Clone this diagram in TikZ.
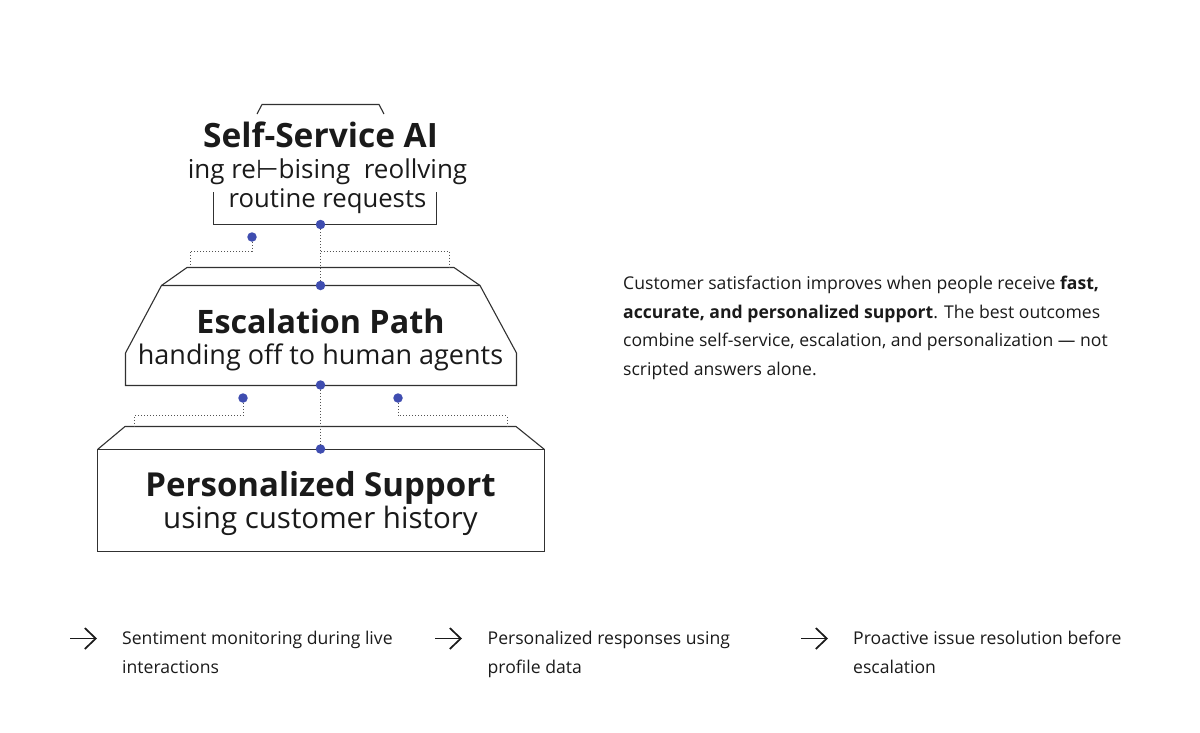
\documentclass[tikz,border=0pt]{standalone}
\usepackage{fontspec}
\setmainfont{Open Sans}
\newfontfamily\symfont{DejaVu Sans}
\usetikzlibrary{arrows.meta}
\definecolor{inkc}{HTML}{1A1A1A}
\definecolor{bluec}{HTML}{3F4DB0}
\tikzset{
  outline/.style={draw=inkc!90,line width=1.1pt,line join=miter},
  dots/.style={draw=inkc!75,line width=1pt,dotted},
  pin/.style={circle,fill=bluec,inner sep=0pt,minimum size=9.5pt},
  head/.style={font=\bfseries\fontsize{#1}{36}\selectfont,text=inkc,inner sep=0pt,anchor=base},
  head/.default=33,
  sub/.style={font=\fontsize{#1}{30}\selectfont,text=inkc,inner sep=0pt,anchor=base},
  sub/.default=27,
  body/.style={font=\fontsize{17.6}{28.6}\selectfont,text=inkc,inner sep=0pt,anchor=north west,align=left},
  go/.style={draw=inkc,line width=1.7pt,-{Straight Barb[length=11pt,width=21pt,line width=1.7pt]}}
}
\begin{document}
\begin{tikzpicture}[x=1pt,y=-1pt]
\useasboundingbox (0,0) rectangle (1200,732);

\coordinate (t1) at (257,114);
\coordinate (t2) at (262,104.5);
\coordinate (t3) at (379,104.5);
\coordinate (t4) at (384,114);
\coordinate (b1) at (213.5,192);
\coordinate (b2) at (213.5,224.5);
\coordinate (b3) at (436.5,224.5);
\coordinate (b4) at (436.5,192);

\coordinate (m1) at (161.5,285.5);
\coordinate (m2) at (187,267.5);
\coordinate (m3) at (454,267.5);
\coordinate (m4) at (480,285.5);
\coordinate (m5) at (516.5,353);
\coordinate (m6) at (516.5,385.5);
\coordinate (m7) at (125.5,385.5);
\coordinate (m8) at (125.5,353);

\coordinate (l1) at (97.5,449.5);
\coordinate (l2) at (125,426.5);
\coordinate (l3) at (516,426.5);
\coordinate (l4) at (544.5,449.5);
\coordinate (l5) at (544.5,551.5);
\coordinate (l6) at (97.5,551.5);

\path[outline] (t1) -- (t2) -- (t3) -- (t4);
\path[outline] (b1) -- (b2) -- (b3) -- (b4);
\path[outline] (m1) -- (m2) -- (m3) -- (m4);
\path[outline] (m1) -- (m4) -- (m5) -- (m6) -- (m7) -- (m8) -- cycle;
\path[outline] (l1) -- (l2) -- (l3) -- (l4);
\path[outline] (l1) -- (l4) -- (l5) -- (l6) -- cycle;

\node[pin] (p1) at (320.5,224.5) {};
\node[pin] (p2) at (320.5,285.5) {};
\node[pin] (p3) at (320.5,385) {};
\node[pin] (p4) at (320.5,449) {};
\node[pin] (p5) at (252,237) {};
\node[pin] (p6) at (243,398) {};
\node[pin] (p7) at (398,398) {};

\coordinate (e1) at (190.5,267);
\coordinate (e2) at (449,267);
\coordinate (e3) at (134,426);
\coordinate (e4) at (507,426);
\coordinate (j1) at (320.5,251);

\path[dots] (p1) -- (p2);
\path[dots] (p3) -- (p4);
\path[dots] (p5) |- (190.5,251) -- (e1);
\path[dots] (j1) -- (449,251) -- (e2);
\path[dots] (p6) |- (134,415.5) -- (e3);
\path[dots] (p7) |- (507,415.5) -- (e4);

\node[head=33.5] (h1) at (320.5,147) {Self-Service AI};
\node[sub=26] (s1) at (327.5,178.5) {ing re{\symfont ⊢}bising\ \ reollving};
\node[sub=25.7] (s2) at (327.5,207.5) {routine requests};
\node[head=32.3] (h2) at (320.5,333) {Escalation Path};
\node[sub] (s3) at (320.5,364) {handing off to human agents};
\node[head] (h3) at (320.5,496) {Personalized Support};
\node[sub=29.5] (s4) at (320.5,528) {using customer history};

\node[body] (note) at (623,276) {Customer satisfaction improves when people receive \textbf{fast,}\\\textbf{accurate, and personalized support}. The best outcomes\\combine self-service, escalation, and personalization — not\\scripted answers alone.};

\coordinate (a1) at (70,638.5);
\coordinate (a2) at (97,638.5);
\coordinate (a3) at (435,638.5);
\coordinate (a4) at (462,638.5);
\coordinate (a5) at (801,638.5);
\coordinate (a6) at (828,638.5);
\path[go] (a1) -- (a2);
\path[go] (a3) -- (a4);
\path[go] (a5) -- (a6);

\node[body] (c1) at (122,631) {Sentiment monitoring during live\\interactions};
\node[body] (c2) at (487.5,631) {Personalized responses using\\profile data};
\node[body] (c3) at (853,631) {Proactive issue resolution before\\escalation};
\end{tikzpicture}
\end{document}
